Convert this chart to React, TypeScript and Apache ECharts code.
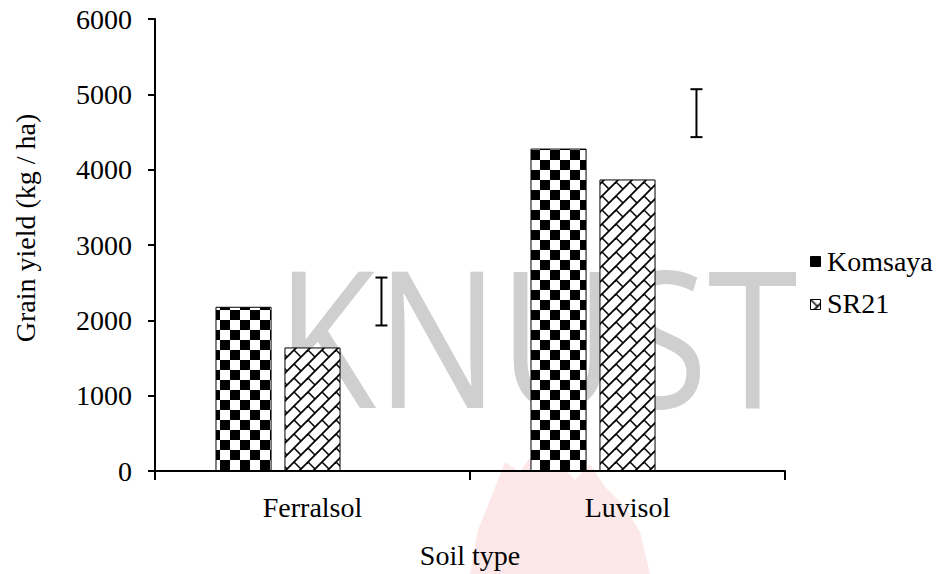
import React, { useEffect, useRef } from "react";
import * as echarts from "echarts";

const categories = ["Ferralsol", "Luvisol"];
const komsaya = [2180, 4280];
const sr21 = [1640, 3870];
const lsdCenter = [2250, 4750];
const lsdHalf = [318, 318];
const seriesNames = ["Komsaya", "SR21"];

const FONT = "Liberation Serif";
const FS = 28;
const BAR_W = 0.178;
const BAR_GAP = 0.23;

function makeChecker(): HTMLCanvasElement {
  const c = document.createElement("canvas");
  const s = 10;
  c.width = s * 2;
  c.height = s * 2;
  const ctx = c.getContext("2d")!;
  ctx.fillStyle = "#fff";
  ctx.fillRect(0, 0, s * 2, s * 2);
  ctx.fillStyle = "#000";
  ctx.fillRect(0, 0, s, s);
  ctx.fillRect(s, s, s, s);
  return c;
}

function makeBrick(): HTMLCanvasElement {
  const T = 28;
  const step = 14;
  const c = document.createElement("canvas");
  c.width = T;
  c.height = T;
  const ctx = c.getContext("2d")!;
  ctx.fillStyle = "#fff";
  ctx.fillRect(0, 0, T, T);
  ctx.strokeStyle = "#000";
  ctx.lineCap = "butt";
  for (let cc = -4 * step; cc <= 8 * step; cc += step) {
    ctx.lineWidth = 1.8;
    ctx.beginPath();
    ctx.moveTo(cc - 3 * T, 3 * T);
    ctx.lineTo(cc + 3 * T, -3 * T);
    ctx.stroke();
    ctx.lineWidth = 1.5;
    for (let x = -4 * step; x <= 8 * step; x += step) {
      ctx.beginPath();
      ctx.moveTo(x, cc - x);
      ctx.lineTo(x + step / 2, cc - x + step / 2);
      ctx.stroke();
    }
  }
  return c;
}

export default function App() {
  const ref = useRef<HTMLDivElement>(null);
  useEffect(() => {
    if (!ref.current) return;
    const chart = echarts.init(ref.current, undefined, { renderer: "svg" });
    const checker = { image: makeChecker(), repeat: "repeat" } as any;
    const brick = { image: makeBrick(), repeat: "repeat" } as any;

    const errData = categories.map((_, i) => [
      i,
      lsdCenter[i] - lsdHalf[i],
      lsdCenter[i] + lsdHalf[i],
    ]);

    const txt = { color: "#000", fontSize: FS, fontFamily: FONT };
    const legendTop = 256;
    const legendStep = 42;

    const option: any = {
      animation: false,
      backgroundColor: "#fff",
      textStyle: { fontFamily: FONT },
      grid: { left: 155, right: 151, top: 19, bottom: 99, containLabel: false },
      legend: {
        data: seriesNames,
        orient: "vertical",
        left: 810,
        top: legendTop,
        padding: 0,
        itemWidth: 10,
        itemHeight: 10,
        itemGap: legendStep - 10,
        icon: "rect",
        formatter: () => "",
        textStyle: { ...txt, fontSize: 1 },
        itemStyle: { borderColor: "#000", borderWidth: 1 },
      },
      xAxis: {
        type: "category",
        data: categories,
        boundaryGap: true,
        axisLine: { show: true, lineStyle: { color: "#000", width: 2 } },
        axisTick: { show: true, length: 9, lineStyle: { color: "#000", width: 2 } },
        axisLabel: { ...txt, margin: 22 },
        splitLine: { show: false },
        name: "Soil type",
        nameLocation: "middle",
        nameGap: 70,
        nameTextStyle: { ...txt },
      },
      yAxis: {
        type: "value",
        min: 0,
        max: 6000,
        interval: 1000,
        axisLine: { show: true, lineStyle: { color: "#000", width: 2 } },
        axisTick: { show: true, length: 7, lineStyle: { color: "#000", width: 2 } },
        axisLabel: { ...txt, margin: 23, formatter: (v: number) => String(v) },
        splitLine: { show: false },
      },
      graphic: [
        {
          type: "polygon",
          z: -2,
          silent: true,
          shape: {
            points: [
              [470, 574], [478, 530], [492, 495], [505, 462], [520, 472],
              [535, 450], [552, 440], [560, 464], [575, 480], [590, 464],
              [605, 487], [625, 507], [640, 532], [650, 574],
            ],
          },
          style: { fill: "rgba(232,100,100,0.15)" },
        },
        {
          type: "text",
          z: -1,
          silent: true,
          x: 276,
          y: 335,
          scaleX: 0.86,
          style: {
            text: "KNUST",
            fontSize: 190,
            fontFamily: "Open Sans",
            fill: "#cfcfcf",
            align: "left",
            verticalAlign: "middle",
          },
        },
        {
          type: "text",
          x: 25,
          y: 228,
          rotation: Math.PI / 2,
          style: {
            text: "Grain yield (kg / ha)",
            fontSize: FS,
            fontFamily: FONT,
            fill: "#000",
            align: "center",
            verticalAlign: "middle",
          },
        },
        ...seriesNames.map((n, i) => ({
          type: "text",
          x: 827,
          y: legendTop + 5 + i * legendStep,
          style: {
            text: n,
            fontSize: FS,
            fontFamily: FONT,
            fill: "#000",
            align: "left",
            verticalAlign: "middle",
          },
        })),
      ],
      series: [
        {
          name: "Komsaya",
          type: "bar",
          data: komsaya,
          barWidth: `${BAR_W * 100}%`,
          barGap: `${BAR_GAP * 100}%`,
          itemStyle: { color: checker, borderColor: "#000", borderWidth: 1 },
          z: 3,
        },
        {
          name: "SR21",
          type: "bar",
          data: sr21,
          barWidth: `${BAR_W * 100}%`,
          barGap: `${BAR_GAP * 100}%`,
          itemStyle: { color: brick, borderColor: "#000", borderWidth: 1 },
          z: 3,
        },
        {
          name: "LSD",
          type: "bar",
          data: lsdCenter,
          barWidth: `${BAR_W * 100}%`,
          barGap: `${BAR_GAP * 100}%`,
          silent: true,
          itemStyle: { color: "rgba(0,0,0,0)", borderWidth: 0 },
        },
        {
          name: "LSD error",
          type: "custom",
          data: errData,
          encode: { x: 0, y: [1, 2] },
          z: 5,
          silent: true,
          renderItem: (params: any, api: any) => {
            const cat = api.value(0);
            const lo = api.coord([cat, api.value(1)]);
            const hi = api.coord([cat, api.value(2)]);
            const band = api.size([1, 0])[0];
            const bw = band * BAR_W;
            const x = lo[0] + bw + bw * BAR_GAP;
            const cap = 6;
            const st = { stroke: "#000", lineWidth: 2 };
            return {
              type: "group",
              children: [
                { type: "line", shape: { x1: x, y1: hi[1], x2: x, y2: lo[1] }, style: st },
                { type: "line", shape: { x1: x - cap, y1: hi[1], x2: x + cap, y2: hi[1] }, style: st },
                { type: "line", shape: { x1: x - cap, y1: lo[1], x2: x + cap, y2: lo[1] }, style: st },
              ],
            };
          },
        },
      ],
    };
    chart.setOption(option);
    return () => chart.dispose();
  }, []);
  return (
    <div
      ref={ref}
      style={{ position: "fixed", left: 0, top: 0, width: 936, height: 574, background: "#fff" }}
    />
  );
}
